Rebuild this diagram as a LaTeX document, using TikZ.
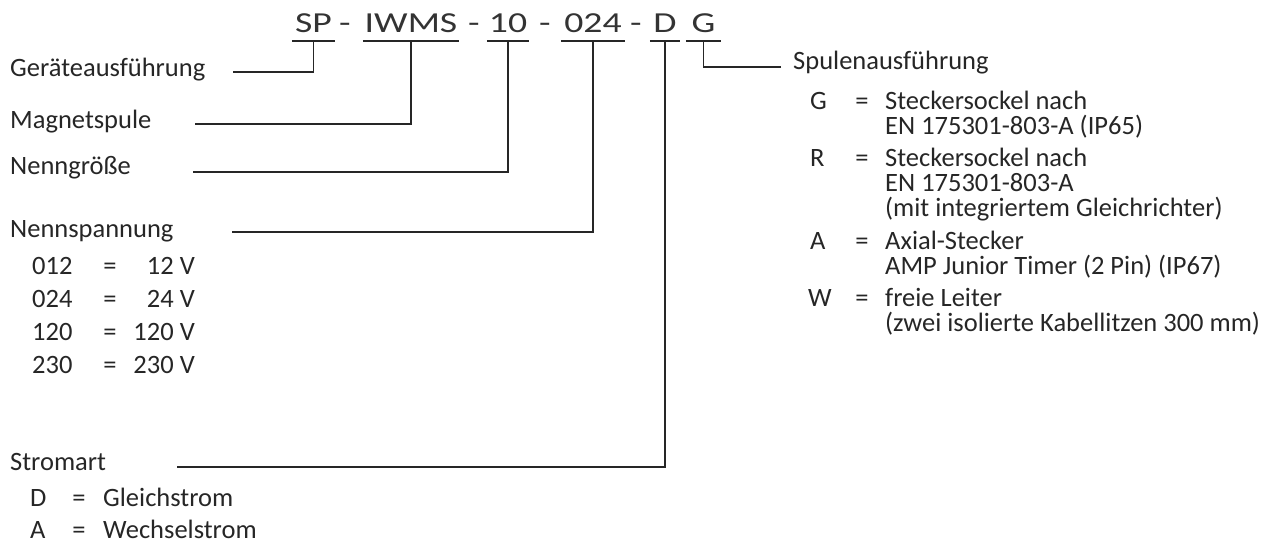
\documentclass[tikz,border=0pt]{standalone}
\usepackage{fontspec}
\setmainfont{Carlito}
\usetikzlibrary{positioning}

\begin{document}
\begin{tikzpicture}[x=1pt,y=-1pt,
  txt/.style={anchor=base west, inner sep=0pt, font=\fontsize{26.5}{30}\selectfont, text=black!85},
  eq/.style={anchor=base, inner sep=0pt, font=\fontsize{26.5}{30}\selectfont, text=black!85},
  code/.style={anchor=base, inner sep=0pt, text depth=8pt, font=\fontsize{29}{32}\selectfont, text=black!80},
  lead/.style={line width=1.7pt, black!85}]
\useasboundingbox (0,0) rectangle (1273,545);

\node (sp)   [code, minimum width=43pt] at (313.5,33) {\scalebox{1.3}[1]{SP}};
\node (dash1)[code] at (345,33) {\scalebox{1.3}[1]{-}};
\node (iwms) [code, minimum width=96pt] at (411,33) {\scalebox{1.3}[1]{IWMS}};
\node (dash2)[code] at (474,33) {\scalebox{1.3}[1]{-}};
\node (size) [code, minimum width=42pt] at (508,33) {\scalebox{1.3}[1]{10}};
\node (dash3)[code] at (545,33) {\scalebox{1.3}[1]{-}};
\node (volt) [code, minimum width=64pt] at (593,33) {\scalebox{1.3}[1]{024}};
\node (dash4)[code] at (636,33) {\scalebox{1.3}[1]{-}};
\node (curr) [code, minimum width=30pt] at (665,33) {\scalebox{1.3}[1]{D}};
\node (coil) [code, minimum width=35pt] at (703.5,33) {\scalebox{1.3}[1]{G}};

\draw [lead](sp.south west)--(sp.south east);
\draw [lead](iwms.south west)--(iwms.south east);
\draw [lead](size.south west)--(size.south east);
\draw [lead](volt.south west)--(volt.south east);
\draw [lead](curr.south west)--(curr.south east);
\draw [lead](coil.south west)--(coil.south east);

\node (geraet) [txt] at (10,77) {Geräteausführung};
\node (magnet) [txt] at (10,129) {Magnetspule};
\node (nenngr) [txt] at (10,175) {Nenngröße};
\node (nennsp) [txt] at (10,238) {Nennspannung};
\node (strom)  [txt] at (10,470) {Stromart};
\node (spule)  [txt] at (793,70) {Spulenausführung};

\coordinate (geraetl) at (233,72);
\coordinate (magnetl) at (195,124);
\coordinate (nenngrl) at (193,172);
\coordinate (nennspl) at (232,232);
\coordinate (stroml)  at (177,467);
\coordinate (spulel)  at (781,67);

\draw [lead](geraetl) -| (sp.south);
\draw [lead](magnetl) -| (iwms.south);
\draw [lead](nenngrl) -| (size.south);
\draw [lead](nennspl) -| (volt.south);
\draw [lead](stroml) -| (curr.south);
\draw [lead](spulel) -| (coil.south);

\node (v012) [txt] at (32,274) {012};
\node (v024) [txt] at (32,307) {024};
\node (v120) [txt] at (32,340) {120};
\node (v230) [txt] at (32,373) {230};
\node (e012) [eq] at (110,274) {=};
\node (e024) [eq] at (110,307) {=};
\node (e120) [eq] at (110,340) {=};
\node (e230) [eq] at (110,373) {=};
\node (w012) [txt, anchor=base east] at (195,274) {12 V};
\node (w024) [txt, anchor=base east] at (195,307) {24 V};
\node (w120) [txt, anchor=base east] at (195,340) {120 V};
\node (w230) [txt, anchor=base east] at (195,373) {230 V};

\node (sd)  [txt] at (30,506) {D};
\node (sa)  [txt] at (30,538) {A};
\node (esd) [eq] at (79,506) {=};
\node (esa) [eq] at (79,538) {=};
\node (wsd) [txt] at (103,506) {Gleichstrom};
\node (wsa) [txt] at (103,538) {Wechselstrom};

\node (cg) [txt] at (810,110) {G};
\node (cr) [txt] at (810,167) {R};
\node (ca) [txt] at (810,249) {A};
\node (cw) [txt] at (808,306) {W};
\node (ecg) [eq] at (862,110) {=};
\node (ecr) [eq] at (862,167) {=};
\node (eca) [eq] at (862,249) {=};
\node (ecw) [eq] at (862,306) {=};
\node (wcg1) [txt] at (885,110) {Steckersockel nach};
\node (wcg2) [txt] at (885,135) {EN 175301-803-A (IP65)};
\node (wcr1) [txt] at (885,167) {Steckersockel nach};
\node (wcr2) [txt] at (885,192) {EN 175301-803-A};
\node (wcr3) [txt] at (885,217) {(mit integriertem Gleichrichter)};
\node (wca1) [txt] at (885,249) {Axial-Stecker};
\node (wca2) [txt] at (885,274) {AMP Junior Timer (2 Pin) (IP67)};
\node (wcw1) [txt] at (885,306) {freie Leiter};
\node (wcw2) [txt] at (885,331) {(zwei isolierte Kabellitzen 300 mm)};
\end{tikzpicture}
\end{document}
